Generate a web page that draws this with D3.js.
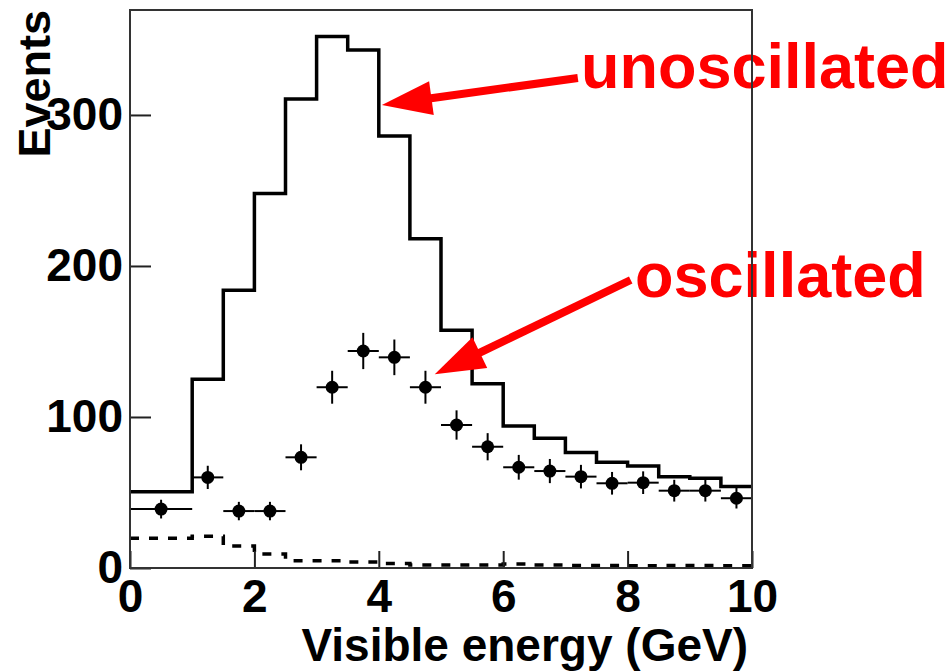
<!DOCTYPE html>
<html>
<head>
<meta charset="utf-8">
<script src="https://cdn.jsdelivr.net/npm/d3@7"></script>
<style>
  body { margin: 0; background: #fff; }
  svg text { font-family: "Liberation Sans", Arial, sans-serif; font-weight: bold; }
</style>
</head>
<body>
<svg id="chart" width="952" height="672"></svg>
<script>
// histogram bins, 0.5 GeV wide (lower edges)
var binEdges = [0, 0.5, 1, 1.5, 2, 2.5, 3, 3.5, 4, 4.5, 5, 5.5, 6, 6.5, 7, 7.5, 8, 8.5, 9, 9.5, 10];
var unoscillated = [50.5, 50.5, 125, 184, 248, 310.5, 352, 343, 286, 218, 157.5, 122, 94, 86, 76.5, 70, 67.5, 60.5, 59.5, 54];
var background = [19.7, 19.7, 21, 14.5, 9.3, 4.8, 4.8, 4, 3, 2, 2, 2, 2.6, 2, 1.7, 1.7, 1.5, 1.7, 1.7, 1.5];

// oscillated data points
var dataLo  = [0, 1, 1.5, 2, 2.5, 3, 3.5, 4, 4.5, 5, 5.5, 6, 6.5, 7, 7.5, 8, 8.5, 9, 9.5];
var dataHi  = [1, 1.5, 2, 2.5, 3, 3.5, 4, 4.5, 5, 5.5, 6, 6.5, 7, 7.5, 8, 8.5, 9, 9.5, 10];
var dataY   = [39, 60, 37.7, 37.7, 73.3, 119.7, 143.7, 139.5, 119.7, 94.7, 80.3, 66.7, 64.2, 60.5, 56.1, 56.5, 51.2, 51.2, 46.2];
var dataErr = [6.2, 7.7, 6.1, 6.1, 8.6, 10.9, 12, 11.8, 10.9, 9.7, 9, 8.2, 8, 7.8, 7.5, 7.5, 7.2, 7.2, 6.8];

var xTicks = [0, 2, 4, 6, 8, 10];
var yTicks = [0, 100, 200, 300];

var svg = d3.select("#chart"),
    margin = {top: 10, right: 200, bottom: 104, left: 130},
    width = +svg.attr("width") - margin.left - margin.right,
    height = +svg.attr("height") - margin.top - margin.bottom;

var x = d3.scaleLinear().domain([0, 10]).range([0, width]),
    y = d3.scaleLinear().domain([0, 369.5]).range([height, 0]);

var g = svg.append("g")
    .attr("transform", "translate(" + margin.left + "," + margin.top + ")");

function stepPath(vals) {
  var pts = [];
  vals.forEach(function(v, i) {
    pts.push([x(binEdges[i]), y(v)]);
    pts.push([x(binEdges[i + 1]), y(v)]);
  });
  return d3.line()(pts);
}

// unoscillated prediction
g.append("path")
    .attr("d", stepPath(unoscillated))
    .attr("fill", "none")
    .attr("stroke", "#000")
    .attr("stroke-width", 3.5);

// background (dashed)
g.append("path")
    .attr("d", stepPath(background))
    .attr("fill", "none")
    .attr("stroke", "#000")
    .attr("stroke-width", 3.5)
    .attr("stroke-dasharray", "9,10");

// data points with error bars
var pts = g.selectAll(".pt")
  .data(dataY.map(function(v, i) { return {lo: dataLo[i], hi: dataHi[i], v: v, e: dataErr[i]}; }))
  .enter().append("g")
    .attr("class", "pt");

pts.append("line")
    .attr("x1", function(d) { return x(d.lo); })
    .attr("x2", function(d) { return x(d.hi); })
    .attr("y1", function(d) { return y(d.v); })
    .attr("y2", function(d) { return y(d.v); })
    .attr("stroke", "#000").attr("stroke-width", 2);

pts.append("line")
    .attr("x1", function(d) { return x((d.lo + d.hi) / 2); })
    .attr("x2", function(d) { return x((d.lo + d.hi) / 2); })
    .attr("y1", function(d) { return y(d.v - d.e); })
    .attr("y2", function(d) { return y(d.v + d.e); })
    .attr("stroke", "#000").attr("stroke-width", 2);

pts.append("circle")
    .attr("cx", function(d) { return x((d.lo + d.hi) / 2); })
    .attr("cy", function(d) { return y(d.v); })
    .attr("r", 6.5)
    .attr("fill", "#000");

// annotations
function arrow(x0, y0, x1, y1) {
  var px0 = x(x0), py0 = y(y0), px1 = x(x1), py1 = y(y1);
  var dx = px1 - px0, dy = py1 - py0, len = Math.sqrt(dx * dx + dy * dy);
  var ux = dx / len, uy = dy / len, nx = -uy, ny = ux;
  var hl = 50, hw = 17;
  var bx = px1 - ux * hl, by = py1 - uy * hl;
  g.append("line")
      .attr("x1", px0).attr("y1", py0)
      .attr("x2", bx + ux * 4).attr("y2", by + uy * 4)
      .attr("stroke", "#ff0000").attr("stroke-width", 8);
  g.append("path")
      .attr("d", d3.line()([[px1, py1], [bx + nx * hw, by + ny * hw], [bx - nx * hw, by - ny * hw]]) + "Z")
      .attr("fill", "#ff0000");
}
arrow(7.2, 324.5, 4.05, 306.6);
arrow(8.05, 190.7, 4.9, 128.3);

g.append("text")
    .attr("x", x(7.25)).attr("y", y(318))
    .attr("fill", "#ff0000")
    .style("font-size", "63px")
    .text("unoscillated");

g.append("text")
    .attr("x", x(8.12)).attr("y", y(179.5))
    .attr("fill", "#ff0000")
    .style("font-size", "63px")
    .text("oscillated");

// axes with inward ticks
var xAxis = g.append("g")
    .attr("transform", "translate(0," + height + ")")
    .call(d3.axisBottom(x).tickValues(xTicks).tickSizeInner(-17).tickSizeOuter(0).tickPadding(11));

var yAxis = g.append("g")
    .call(d3.axisLeft(y).tickValues(yTicks).tickSizeInner(-21).tickSizeOuter(0).tickPadding(7));

[xAxis, yAxis].forEach(function(a) {
  a.select(".domain").remove();
  a.selectAll(".tick line").attr("stroke", "#222").attr("stroke-width", 2);
  a.selectAll(".tick text")
      .attr("fill", "#000")
      .style("font-size", "46px")
      .style("font-family", "'Liberation Sans', Arial, sans-serif")
      .style("font-weight", "bold");
});

// frame
g.append("rect")
    .attr("width", width).attr("height", height)
    .attr("fill", "none")
    .attr("stroke", "#333")
    .attr("stroke-width", 2);

// axis titles
g.append("text")
    .attr("text-anchor", "end")
    .attr("transform", "translate(-80,0) rotate(-90)")
    .attr("fill", "#000")
    .style("font-size", "45px")
    .text("Events");

g.append("text")
    .attr("text-anchor", "end")
    .attr("x", width - 4).attr("y", height + 93)
    .attr("fill", "#000")
    .style("font-size", "46px")
    .text("Visible energy (GeV)");
</script>
</body>
</html>
